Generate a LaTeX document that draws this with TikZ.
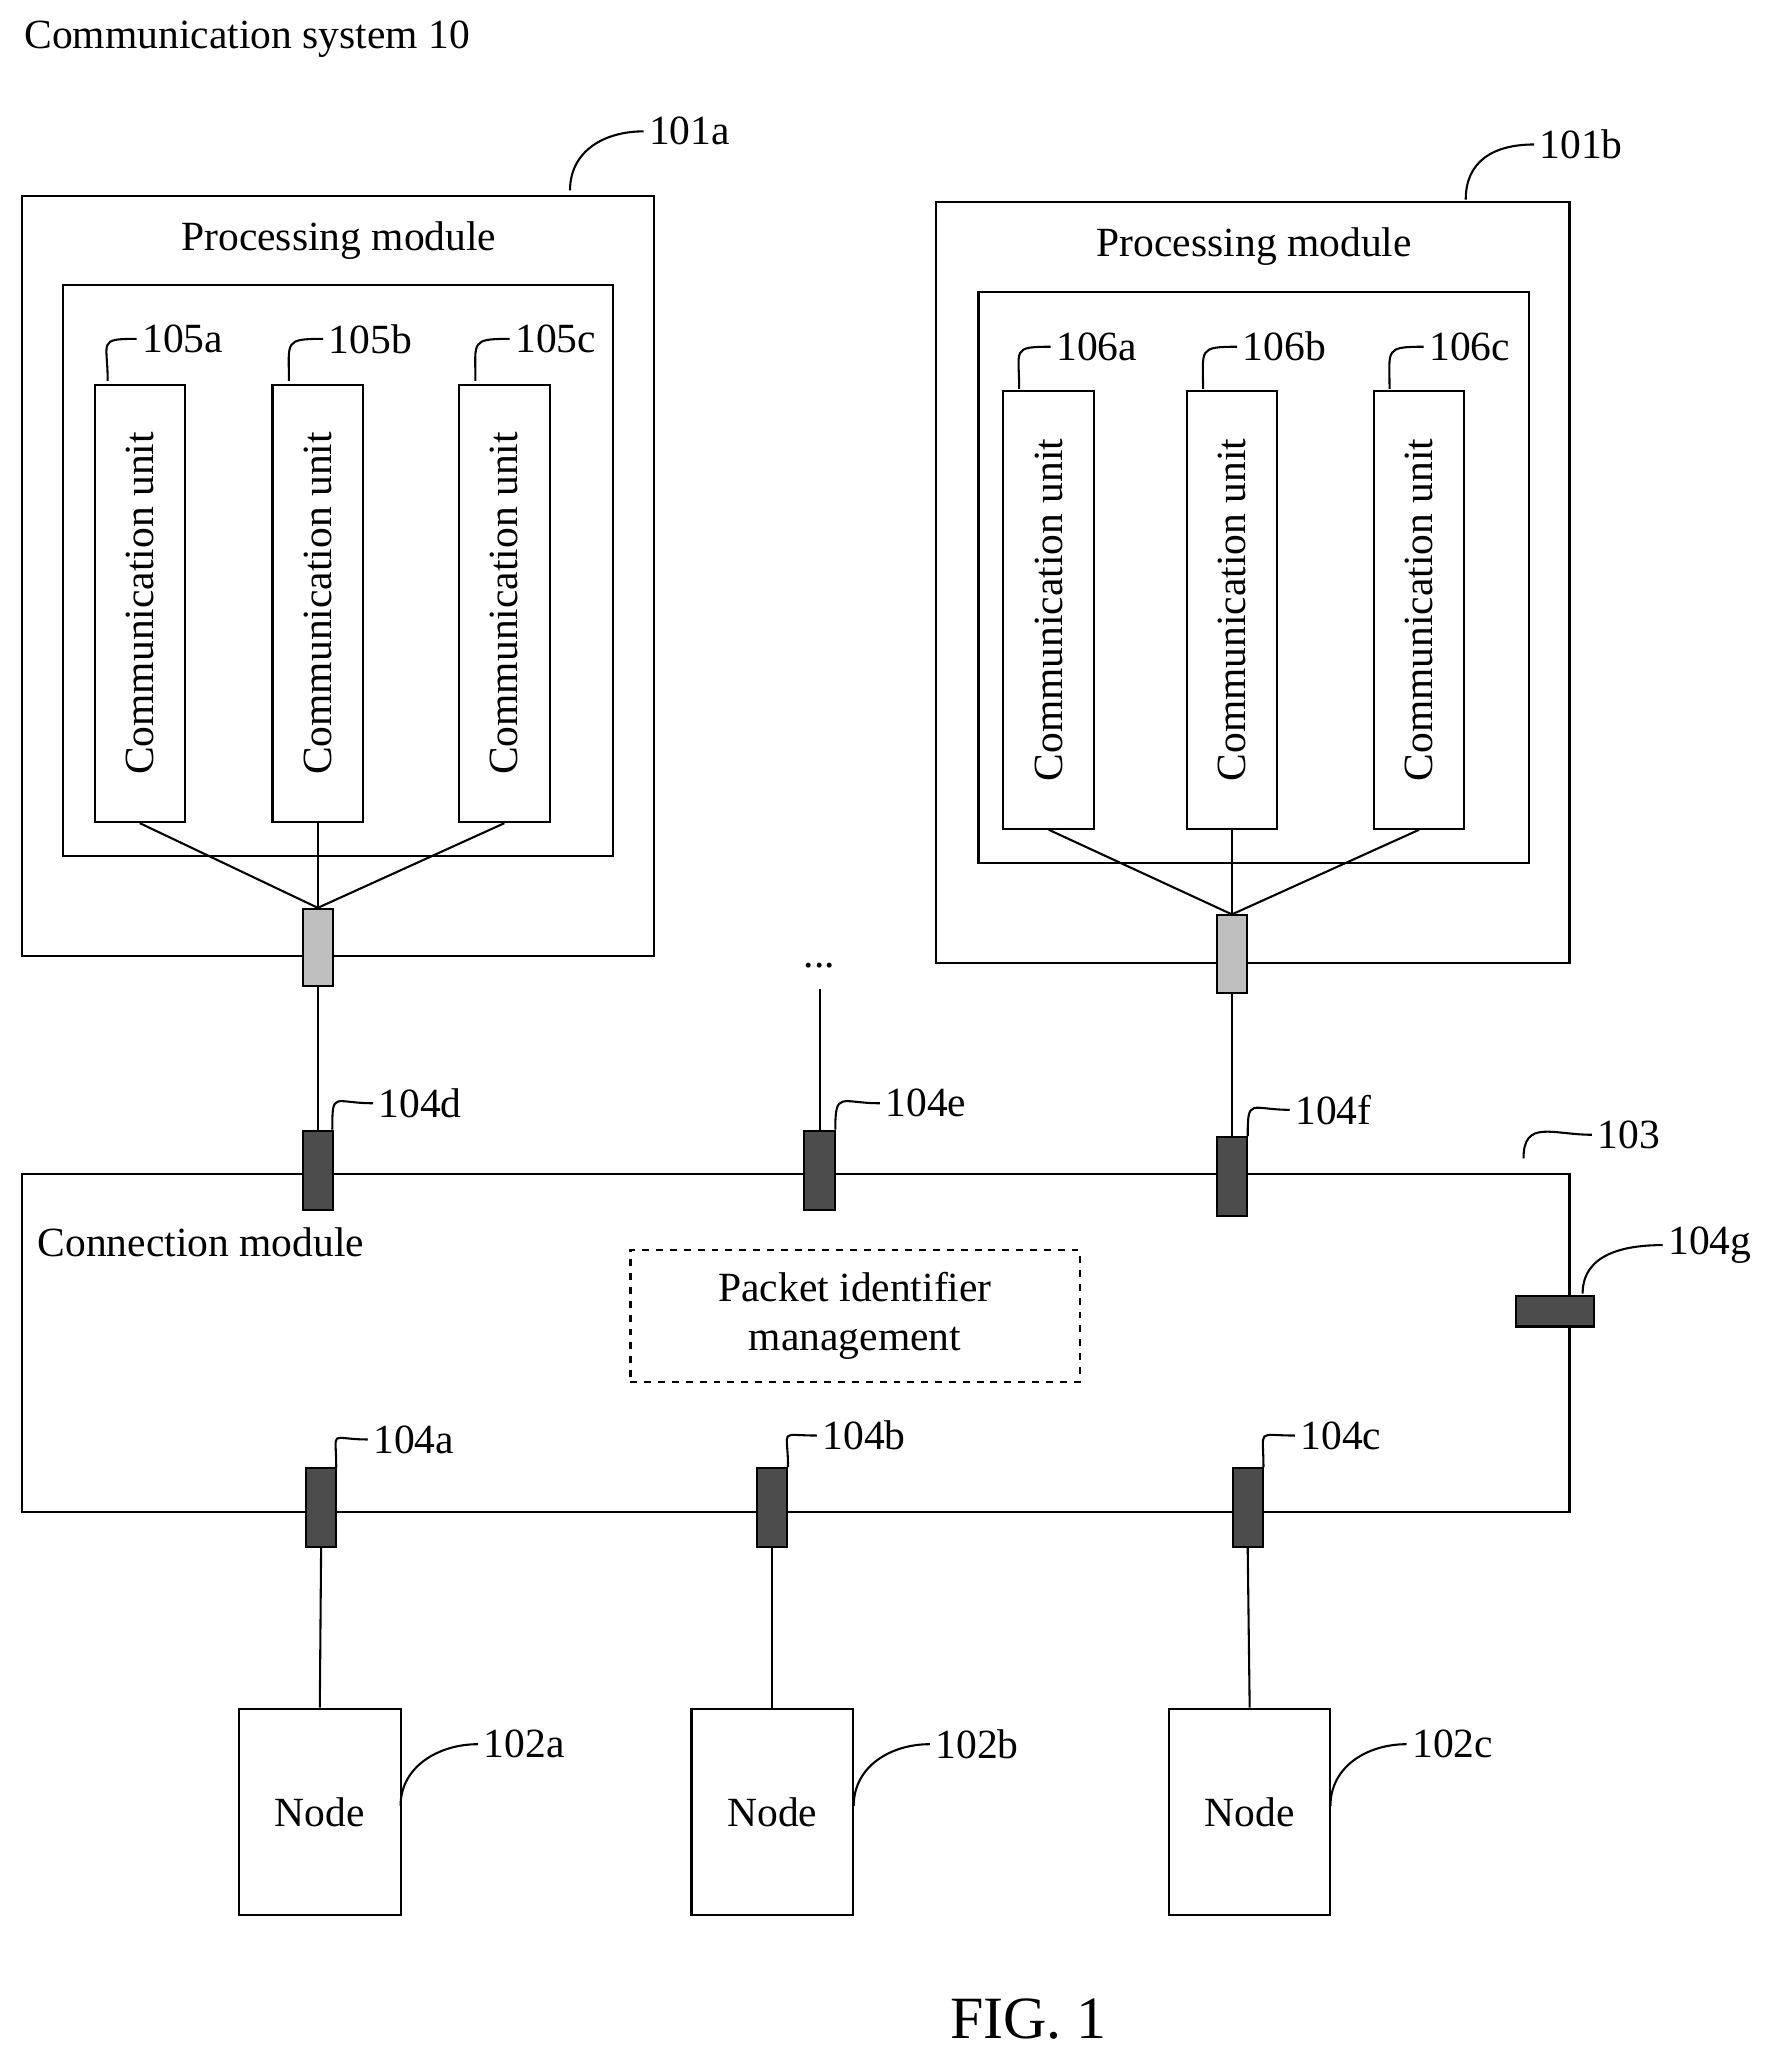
\documentclass[tikz,border=0pt]{standalone}
\usepackage{fontspec}
\setmainfont{Liberation Serif}
\begin{document}
\begin{tikzpicture}[x=0.02cm,y=-0.02cm,line width=0.9pt,
  every node/.style={font=\fontsize{18}{21}\selectfont},
  box/.style={draw,inner sep=0pt},
  unit/.style={draw,rotate=90,minimum width=6.66cm,minimum height=1.38cm,inner sep=0pt},
  hub/.style={draw,fill=black!25,minimum width=0.46cm,minimum height=1.18cm,inner sep=0pt},
  port/.style={draw,fill=black!70,minimum width=0.46cm,minimum height=1.2cm,inner sep=0pt},
  nd/.style={draw,minimum width=2.46cm,minimum height=3.14cm}]
\useasboundingbox (0,0) rectangle (1360,1570);
\newcommand{\leader}[3]{\draw (#1) .. controls +(0,-30) and +(-30,0) .. (#2) node[right,inner sep=2pt] {#3};}
\node[right] (title) at (12,30) {Communication system 10};
% processing modules
\draw (17,149) rectangle (498,728) coordinate (pa);
\node (pma) at (258,183) {Processing module};
\draw (48,217) rectangle (467,652);
\draw (713,154) rectangle (1195,733);
\node (pmb) at (955,188) {Processing module};
\draw (745,222) rectangle (1164,657);
\node[unit] (u105a) at (106.5,459.5) {Communication unit};
\node[unit] (u105b) at (242,459.5) {Communication unit};
\node[unit] (u105c) at (384,459.5) {Communication unit};
\node[unit] (u106a) at (798.5,464.5) {Communication unit};
\node[unit] (u106b) at (938,464.5) {Communication unit};
\node[unit] (u106c) at (1080.5,464.5) {Communication unit};
\node[hub] (ha) at (242,721.5) {};
\node[hub] (hb) at (938,726.5) {};
\foreach \u in {u105a,u105b,u105c} \draw (\u.west) -- (ha.north);
\foreach \u in {u106a,u106b,u106c} \draw (\u.west) -- (hb.north);
% connection module
\draw (17,894) rectangle (1195,1151);
\node[right] (cm) at (22,946) {Connection module};
\node[draw,dashed,minimum width=6.84cm,minimum height=2cm,align=center] (pim) at (651,1002) {Packet identifier\\management};
\node[port] (p104d) at (242,891) {};
\node[port] (p104e) at (624,891) {};
\node[port] (p104f) at (938,896) {};
\node[port,minimum width=1.2cm,minimum height=0.46cm] (p104g) at (1184,998.5) {};
\node[port] (p104a) at (244.5,1148) {};
\node[port] (p104b) at (588,1148) {};
\node[port] (p104c) at (950,1148) {};
\node (dots) at (624,735) {...};
\coordinate (de) at (624,753);
\draw (ha.south) -- (p104d.north);
\draw (de) -- (p104e.north);
\draw (hb.south) -- (p104f.north);
% nodes
\node[nd] (n102a) at (243.5,1379.5) {Node};
\node[nd] (n102b) at (588,1379.5) {Node};
\node[nd] (n102c) at (951.5,1379.5) {Node};
\draw (p104a.south) -- (n102a.north);
\draw (p104b.south) -- (n102b.north);
\draw (p104c.south) -- (n102c.north);
% reference labels
\leader{434,145}{490,100}{101a}
\leader{1116,152}{1168,110}{101b}
\leader{82,290}{104,258}{105a}
\leader{220,290}{246,258}{105b}
\leader{362,290}{388,258}{105c}
\leader{776,296}{800,264}{106a}
\leader{916,296}{942,264}{106b}
\leader{1058,296}{1084,264}{106c}
\leader{253,860}{284,840}{104d}
\leader{636,860}{670,840}{104e}
\leader{950,865}{982,845}{104f}
\leader{1160,882}{1212,864}{103}
\leader{1205,985}{1266,948}{104g}
\leader{256,1117}{280,1096}{104a}
\leader{600,1117}{622,1093}{104b}
\leader{962,1117}{986,1093}{104c}
\leader{305,1375}{364,1328}{102a}
\leader{650,1375}{708,1328}{102b}
\leader{1013,1375}{1071,1328}{102c}
\node[font=\fontsize{26}{30}\selectfont] (fig) at (783,1537) {FIG. 1};
\end{tikzpicture}
\end{document}
